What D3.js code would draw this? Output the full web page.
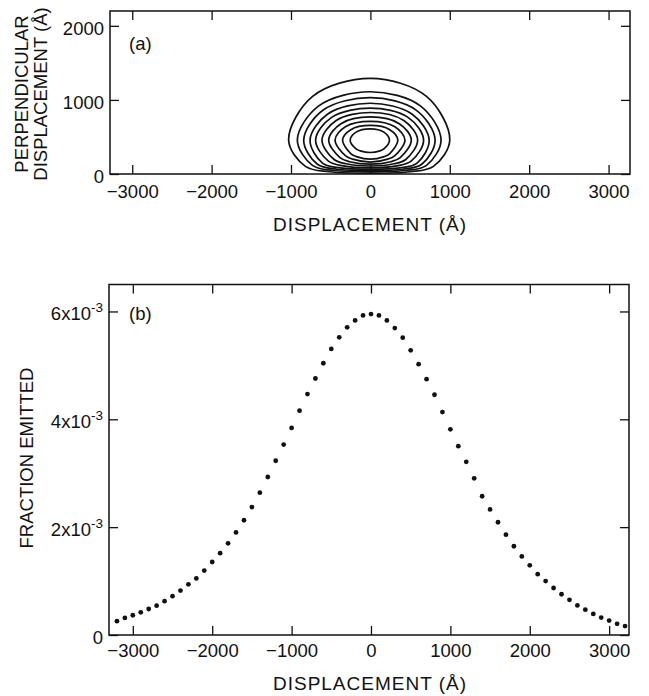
<!DOCTYPE html>
<html>
<head>
<meta charset="utf-8">
<script src="https://cdn.jsdelivr.net/npm/d3@7"></script>
<style>
  body { margin: 0; background: #fff; }
  text { font-family: "Liberation Sans", Arial, sans-serif; fill: #111; }
</style>
</head>
<body>
<div id="chart"></div>
<script>
'use strict';

// Tick values and labels
const xTicks = [-3000, -2000, -1000, 0, 1000, 2000, 3000];
const xTickLabels = ['\u22123000', '\u22122000', '\u22121000', '0', '1000', '2000', '3000'];
const yTicksA = [0, 1000, 2000];
const yTickLabelsA = ['0', '1000', '2000'];
const yTicksB = [0, 2, 4, 6];
const yTickLabelsB = ['0', '2x10^-3', '4x10^-3', '6x10^-3'];

// (a) contour rings, [displacement, perpendicular displacement] in Å
const contourRings = [
    [[0, 1290], [-728, 1047], [-1030, 460], [-818, 103], [-515, 30], [0, 10], [500, 30], [794, 103], [1000, 460], [707, 1047]],
    [[0, 1110], [-650, 920], [-920, 460], [-730, 117], [-460, 47], [0, 28], [445, 47], [707, 117], [890, 460], [629, 920]],
    [[0, 1030], [-594, 863], [-840, 460], [-667, 131], [-420, 64], [0, 46], [408, 64], [647, 131], [815, 460], [576, 863]],
    [[0, 955], [-537, 810], [-760, 460], [-603, 146], [-380, 82], [0, 65], [370, 82], [588, 146], [740, 460], [523, 810]],
    [[0, 890], [-488, 764], [-690, 460], [-529, 173], [-345, 110], [0, 85], [335, 110], [513, 173], [670, 460], [474, 764]],
    [[0, 830], [-431, 722], [-610, 460], [-457, 196], [-305, 138], [0, 108], [298, 138], [446, 196], [595, 460], [421, 722]],
    [[0, 770], [-371, 679], [-525, 460], [-383, 221], [-263, 166], [0, 132], [258, 166], [376, 221], [515, 460], [364, 679]],
    [[0, 710], [-315, 637], [-445, 460], [-315, 248], [-223, 200], [0, 160], [218, 200], [308, 248], [435, 460], [308, 637]],
    [[0, 655], [-247, 598], [-350, 460], [-247, 276], [-175, 235], [0, 200], [173, 235], [244, 276], [345, 460], [244, 598]],
    [[0, 610], [-180, 565], [-255, 455], [-180, 338], [-128, 312], [0, 290], [120, 312], [170, 338], [240, 455], [170, 565]]
];

// (b) fraction emitted (x10^-3) vs displacement (Å)
const displacement = [
    -3200, -3100, -3000, -2900, -2800, -2700, -2600, -2500, -2400, -2300, -2200,
    -2100, -2000, -1900, -1800, -1700, -1600, -1500, -1400, -1300, -1200, -1100,
    -1000, -900, -800, -700, -600, -500, -400, -300, -200, -100, 0,
    100, 200, 300, 400, 500, 600, 700, 800, 900, 1000, 1100,
    1200, 1300, 1400, 1500, 1600, 1700, 1800, 1900, 2000, 2100, 2200,
    2300, 2400, 2500, 2600, 2700, 2800, 2900, 3000, 3100, 3200
];
const fractionEmitted = [
    0.256, 0.317, 0.366, 0.421, 0.482, 0.543, 0.628, 0.720, 0.823, 0.939, 1.049,
    1.195, 1.354, 1.518, 1.701, 1.902, 2.128, 2.372, 2.640, 2.930, 3.231, 3.532,
    3.840, 4.160, 4.468, 4.757, 5.040, 5.305, 5.520, 5.705, 5.834, 5.926, 5.951,
    5.926, 5.834, 5.692, 5.514, 5.280, 5.022, 4.745, 4.455, 4.135, 3.815, 3.502,
    3.212, 2.905, 2.573, 2.329, 2.091, 1.860, 1.646, 1.457, 1.293, 1.128, 1.000,
    0.872, 0.756, 0.652, 0.549, 0.470, 0.390, 0.323, 0.268, 0.207, 0.165
];

const settings = { width: 649, height: 696, tick: 9 };

const svg = d3.select('#chart')
    .append('svg')
    .attr('width', settings.width)
    .attr('height', settings.height);

// panel frames in page pixels
const panelA = { left: 110, right: 630, top: 11, bottom: 174 };
const panelB = { left: 109, right: 629, top: 284.5, bottom: 635 };

const xA = d3.scaleLinear().domain([-3280, 3270]).range([panelA.left, panelA.right]);
const yA = d3.scaleLinear().domain([0, 2200]).range([panelA.bottom, panelA.top]);
const xB = d3.scaleLinear().domain([-3300, 3250]).range([panelB.left, panelB.right]);
const yB = d3.scaleLinear().domain([0, 6.5]).range([panelB.bottom, panelB.top]);

function drawFrame(p, x, y, yTicks, yLabels, xPad) {
    const g = svg.append('g');
    const t = settings.tick;

    // bottom axis with labels
    g.append('g')
        .attr('transform', `translate(0,${p.bottom})`)
        .call(d3.axisBottom(x).tickValues(xTicks).tickSize(-t).tickSizeOuter(0)
            .tickPadding(xPad).tickFormat((d, i) => xTickLabels[i]));
    // top axis, ticks only
    g.append('g')
        .attr('transform', `translate(0,${p.top})`)
        .call(d3.axisTop(x).tickValues(xTicks).tickSize(-t).tickSizeOuter(0).tickFormat(''));
    // left axis
    g.append('g')
        .attr('class', 'yleft')
        .attr('transform', `translate(${p.left},0)`)
        .call(d3.axisLeft(y).tickValues(yTicks).tickSize(-t).tickSizeOuter(0)
            .tickPadding(6).tickFormat((d, i) => yLabels[i]));
    // right axis
    g.append('g')
        .attr('transform', `translate(${p.right},0)`)
        .call(d3.axisRight(y).tickValues(yTicks).tickSize(-t).tickSizeOuter(0).tickFormat(''));

    g.selectAll('.domain').remove();
    g.selectAll('.tick line').attr('stroke', '#111').attr('stroke-width', 1.3);
    g.selectAll('.tick text')
        .attr('font-family', '"Liberation Sans", Arial, sans-serif')
        .attr('font-size', 18.5)
        .attr('fill', '#111');
    g.selectAll('.yleft .tick text').attr('dy', '0.45em');

    g.append('rect')
        .attr('x', p.left)
        .attr('y', p.top)
        .attr('width', p.right - p.left)
        .attr('height', p.bottom - p.top)
        .attr('fill', 'none')
        .attr('stroke', '#111')
        .attr('stroke-width', 1.5);
    return g;
}

// ---- panel (a) ----
drawFrame(panelA, xA, yA, yTicksA, yTickLabelsA, 11);

const ring = d3.line()
    .x(d => xA(d[0]))
    .y(d => yA(d[1]))
    .curve(d3.curveCatmullRomClosed.alpha(0.5));

svg.append('g')
    .selectAll('path')
    .data(contourRings)
    .enter()
    .append('path')
    .attr('d', ring)
    .attr('fill', 'none')
    .attr('stroke', '#111')
    .attr('stroke-width', 1.7);

svg.append('text')
    .attr('x', 129).attr('y', 50)
    .attr('font-size', 18.5)
    .text('(a)');

svg.append('text')
    .attr('x', 370).attr('y', 231)
    .attr('text-anchor', 'middle')
    .attr('font-size', 19)
    .attr('letter-spacing', 1)
    .text('DISPLACEMENT (\u00c5)');

const yTitleA = svg.append('text')
    .attr('transform', 'translate(0,94) rotate(-90)')
    .attr('text-anchor', 'middle')
    .attr('font-size', 18.5);
yTitleA.append('tspan').attr('x', 0).attr('y', 28).text('PERPENDICULAR');
yTitleA.append('tspan').attr('x', 0).attr('y', 47).text('DISPLACEMENT (\u00c5)');

// ---- panel (b) ----
const gB = drawFrame(panelB, xB, yB, yTicksB, yTickLabelsB, 9);

// rebuild "2x10^-3" labels with a raised exponent
gB.selectAll('.yleft .tick text').each(function (d, i) {
    const parts = yTickLabelsB[i].split('^');
    if (parts.length < 2) return;
    const el = d3.select(this).text(null);
    el.append('tspan').text(parts[0]);
    el.append('tspan')
        .attr('dy', -8)
        .attr('font-size', 13.5)
        .text(parts[1]);
});

svg.append('g')
    .selectAll('circle')
    .data(displacement)
    .enter()
    .append('circle')
    .attr('cx', d => xB(d))
    .attr('cy', (d, i) => yB(fractionEmitted[i]))
    .attr('r', 2.4)
    .attr('fill', '#111');

svg.append('text')
    .attr('x', 129).attr('y', 320)
    .attr('font-size', 18.5)
    .text('(b)');

svg.append('text')
    .attr('x', 370).attr('y', 690)
    .attr('text-anchor', 'middle')
    .attr('font-size', 19)
    .attr('letter-spacing', 1)
    .text('DISPLACEMENT (\u00c5)');

svg.append('text')
    .attr('transform', 'translate(33,458) rotate(-90)')
    .attr('text-anchor', 'middle')
    .attr('font-size', 18.5)
    .text('FRACTION EMITTED');
</script>
</body>
</html>
